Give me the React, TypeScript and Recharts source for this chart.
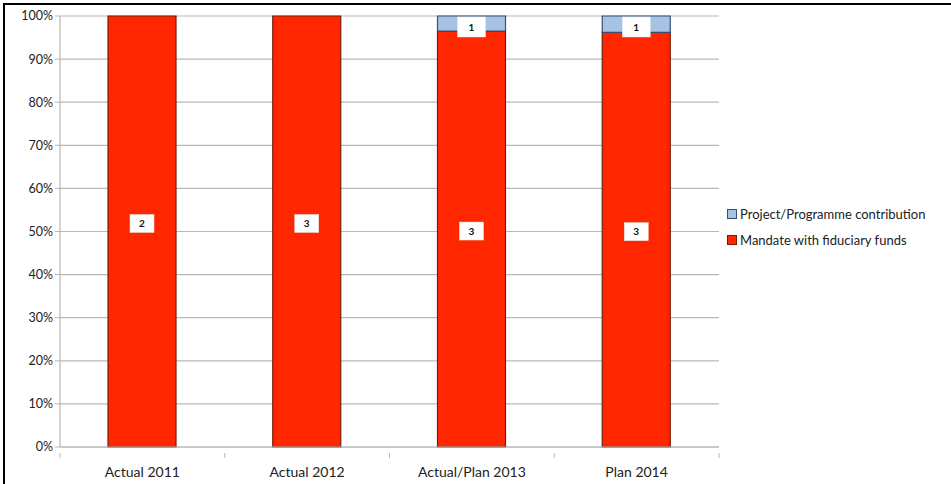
import { BarChart, Bar, XAxis, YAxis, CartesianGrid, LabelList } from 'recharts'

const categories = ['Actual 2011', 'Actual 2012', 'Actual/Plan 2013', 'Plan 2014']
// share of budget per year, in percent
const mandateShare = [100, 100, 96.5, 96.2]
const projectShare = [0, 0, 3.5, 3.8]
// number of items shown in the boxes
const mandateCount = [2, 3, 3, 3]
const projectCount = [null, null, 1, 1]
const yTicks = [0, 10, 20, 30, 40, 50, 60, 70, 80, 90, 100]

const RED = '#ff2600'
const BLUE = '#a6c3e6'
const GRID = '#b8b8b8'
const FONT = 'Lato, "Open Sans", sans-serif'

const W = 951
const H = 484
const MARGIN = { top: 16, right: 232, left: 10, bottom: 7 }
const Y_AXIS_W = 50
const BAND = (W - MARGIN.left - MARGIN.right - Y_AXIS_W) / categories.length

const data = categories.map((name, i) => ({
  name,
  mandate: mandateShare[i],
  project: projectShare[i],
  mandateCount: mandateCount[i],
  projectCount: projectCount[i],
}))

function boxLabel(kind: 'mandate' | 'project') {
  // eslint-disable-next-line @typescript-eslint/no-explicit-any
  return (props: any) => {
    const { x, y, width, height, value } = props
    if (value === null || value === undefined) return null
    const cx = x + width / 2
    const bw = kind === 'project' ? 28 : 24
    const bh = kind === 'project' ? 20 : 18
    const top = kind === 'project' ? y + 1 : y + height / 2 - 8 - bh / 2
    return (
      <g>
        <rect x={cx - bw / 2} y={top} width={bw} height={bh} fill="#ffffff" stroke="#e6e6e6" strokeWidth={0.5} />
        <text
          x={cx}
          y={top + bh / 2 + 3.5}
          textAnchor="middle"
          fontSize={10}
          fontWeight={700}
          fontFamily={FONT}
          fill="#111"
        >
          {value}
        </text>
      </g>
    )
  }
}

// category label plus tick marks on the band edges
// eslint-disable-next-line @typescript-eslint/no-explicit-any
function CategoryTick(props: any) {
  const { x, y, payload, index } = props
  const top = y - 10
  const last = index === categories.length - 1
  return (
    <g>
      <line x1={x - BAND / 2} x2={x - BAND / 2} y1={top} y2={top + 5} stroke={GRID} />
      {last && <line x1={x + BAND / 2} x2={x + BAND / 2} y1={top} y2={top + 5} stroke={GRID} />}
      <text x={x} y={y + 14} textAnchor="middle" fontSize={14} fill="#222" fontFamily={FONT}>
        {payload.value}
      </text>
    </g>
  )
}

const legendItems = [
  { label: 'Project/Programme contribution', color: BLUE, edge: '#3b4f6b' },
  { label: 'Mandate with fiduciary funds', color: RED, edge: '#7a1a0a' },
]

function ChartLegend() {
  return (
    <div style={{ position: 'absolute', left: 727, top: 201, fontFamily: FONT, fontSize: 13, color: '#222' }}>
      {legendItems.map((it) => (
        <div key={it.label} style={{ display: 'flex', alignItems: 'center', height: 26 }}>
          <span
            style={{
              display: 'inline-block',
              width: 8,
              height: 8,
              background: it.color,
              border: `1px solid ${it.edge}`,
              marginRight: 3,
            }}
          />
          {it.label}
        </div>
      ))}
    </div>
  )
}

export default function App() {
  return (
    <div style={{ position: 'fixed', left: 0, top: 0, width: W, height: H, background: '#fff' }}>
      <div
        style={{
          position: 'absolute',
          left: 3,
          top: 3,
          width: W - 3,
          height: H - 3,
          borderLeft: '2px solid #000',
          borderTop: '2px solid #000',
        }}
      />
      <BarChart width={W} height={H} data={data} margin={MARGIN} barSize={68}>
        <CartesianGrid vertical={false} stroke={GRID} strokeWidth={1.2} />
        <YAxis
          domain={[0, 100]}
          ticks={yTicks}
          width={Y_AXIS_W}
          tickFormatter={(v) => `${v}%`}
          axisLine={{ stroke: GRID, strokeWidth: 1.2 }}
          tickLine={{ stroke: GRID }}
          tickSize={5}
          tick={{ fontSize: 12.5, fill: '#222', fontFamily: FONT }}
        />
        <XAxis
          dataKey="name"
          height={30}
          axisLine={{ stroke: GRID, strokeWidth: 1.2 }}
          tickLine={false}
          tickMargin={10}
          tick={<CategoryTick />}
        />
        <Bar dataKey="mandate" stackId="a" fill={RED} stroke="#7a1a0a" strokeWidth={1.2} isAnimationActive={false}>
          <LabelList dataKey="mandateCount" content={boxLabel('mandate')} />
        </Bar>
        <Bar dataKey="project" stackId="a" fill={BLUE} stroke="#3b4f6b" strokeWidth={1.2} isAnimationActive={false}>
          <LabelList dataKey="projectCount" content={boxLabel('project')} />
        </Bar>
      </BarChart>
      <ChartLegend />
    </div>
  )
}
